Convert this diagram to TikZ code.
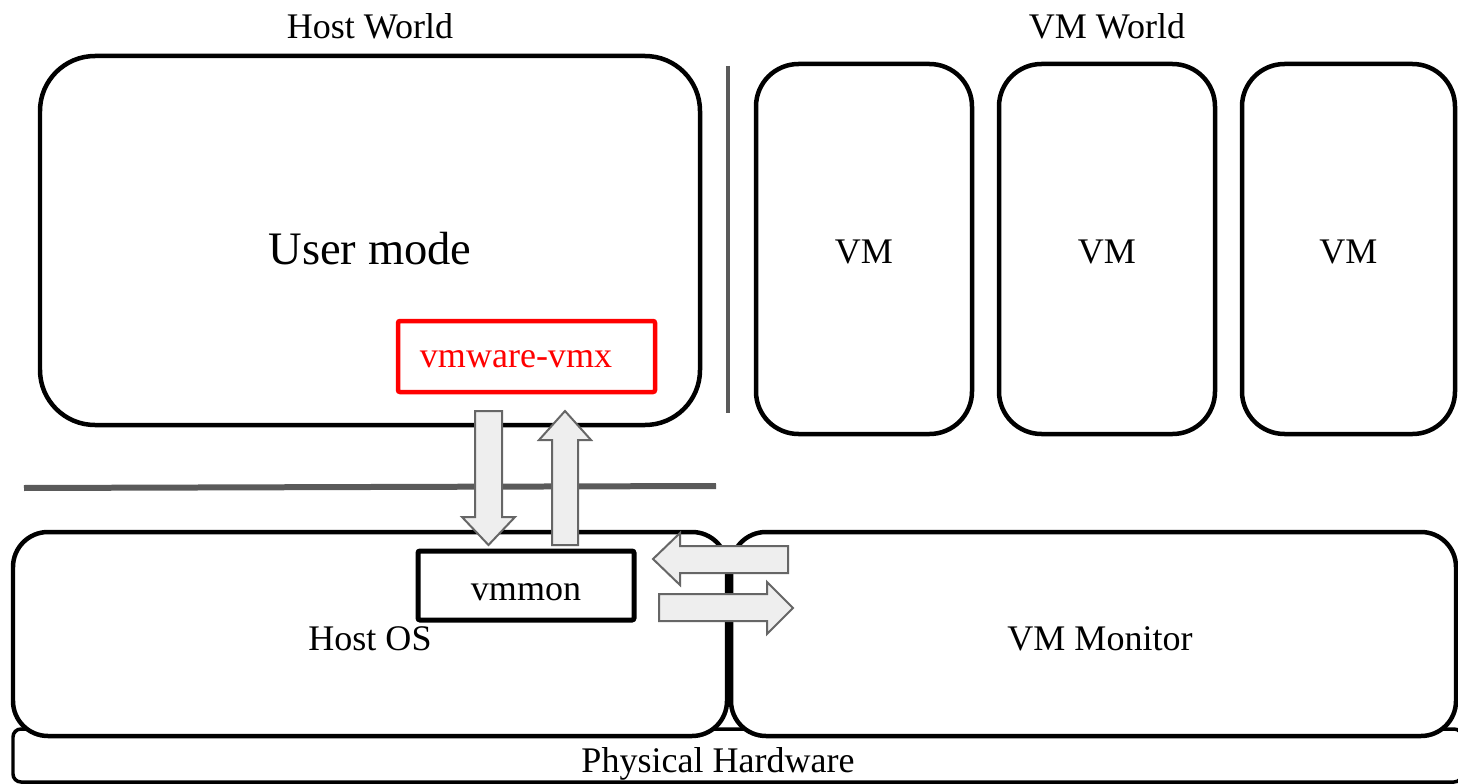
\documentclass[tikz,border=0pt]{standalone}
\usepackage{fontspec}
\setmainfont{Liberation Serif}
\usepackage{xcolor}
\tikzset{>=stealth}
\definecolor{divgray}{HTML}{5A5A5A}
\definecolor{arrfill}{HTML}{EEEEEE}
\definecolor{arrline}{HTML}{666666}

\begin{document}
\begin{tikzpicture}[x=0.02cm,y=-0.02cm,
    box/.style={draw=black, line width=0.09cm, fill=white},
    lbl/.style={font=\fontsize{20.5}{24}\selectfont, inner sep=0pt},
    divider/.style={draw=divgray, line width=0.1cm},
    blockarr/.style={draw=arrline, fill=arrfill, line width=0.04cm, line join=miter}]
        \useasboundingbox (0,0) rectangle (1458,784);

        %titles
        \node[lbl] (hostworld) at (370,26) {Host World};
        \node[lbl] (vmworld) at (1107,26) {VM World};

        %user mode
        \draw[box, rounded corners=1.1cm] (40,56) rectangle (700,425);
        \node[lbl, font=\fontsize{26.5}{30}\selectfont] (user) at (370,249) {User mode};
        \draw[box, draw=red, rounded corners=0.04cm] (398,321) rectangle (655,392);
        \node[lbl, text=red] (vmx) at (516,359) {vmware-vmx};

        %dividers
        \draw[divider, line width=0.08cm] (728,66) -- (728,413);
        \draw[divider, line width=0.12cm] (24,488) -- (716,486);

        %vms
        \foreach \xa/\xb/\nm in {756/972/vma, 999/1215/vmb, 1242/1455/vmc} {
            \draw[box, rounded corners=0.85cm] (\xa,64) rectangle (\xb,434);
            \node[lbl] (\nm) at ({(\xa+\xb)/2},252) {VM};
        }

        %hardware
        \draw[box, line width=0.07cm, rounded corners=0.16cm] (13,729) rectangle (1462,782);
        \node[lbl] (hw) at (718,764) {Physical Hardware};

        %host os and monitor
        \draw[box, rounded corners=0.7cm] (13,532) rectangle (727,736);
        \node[lbl] (hostos) at (370,639) {Host OS};
        \draw[box, rounded corners=0.7cm] (731,532) rectangle (1456,736);
        \node[lbl] (monitor) at (1100,639) {VM Monitor};

        %vmmon
        \draw[box, line width=0.1cm, rounded corners=0.04cm] (418,551) rectangle (634,620);
        \node[lbl] (vmmon) at (526,592) {vmmon};

        %down / up
        \draw[blockarr] (475,411) -- (502,411) -- (502,517) -- (515,517) -- (488.5,545)
            -- (462,517) -- (475,517) -- cycle;
        \draw[blockarr] (552,545) -- (578,545) -- (578,440) -- (591,440) -- (565,411)
            -- (539,440) -- (552,440) -- cycle;

        %left / right
        \draw[blockarr] (788,546) -- (788,573) -- (680,573) -- (680,585) -- (653,559)
            -- (680,533) -- (680,546) -- cycle;
        \draw[blockarr] (659,594) -- (659,621) -- (767,621) -- (767,634) -- (793,608)
            -- (767,582) -- (767,594) -- cycle;

\end{tikzpicture}
\end{document}
